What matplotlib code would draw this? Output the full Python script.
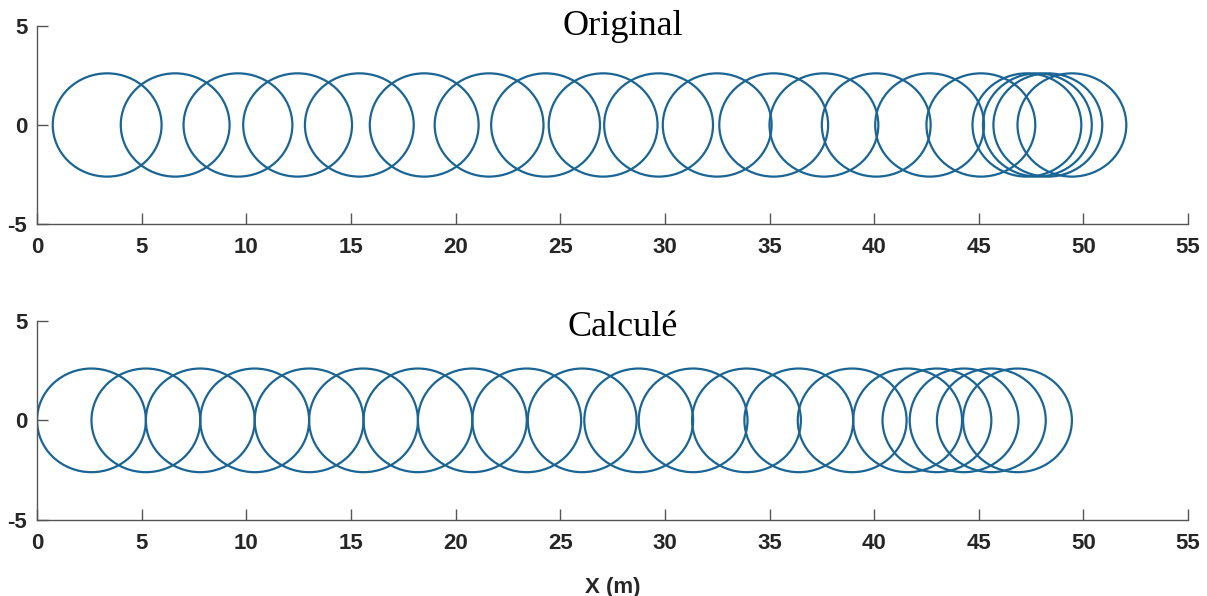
# Trajectoire circulaire : original vs calculé
import matplotlib
matplotlib.use('Agg')
import matplotlib.pyplot as plt
from matplotlib.patches import Circle

plt.rcParams['axes.unicode_minus'] = False

# centres des cercles (m)
centres_original = [3.35, 6.6, 9.6, 12.45, 15.4, 18.5, 21.6, 24.3, 27.05, 29.7,
                    32.5, 35.2, 37.6, 40.1, 42.65, 45.1, 47.3, 47.8, 48.3, 49.45]
centres_calcule = [2.6, 5.2, 7.8, 10.4, 13.0, 15.6, 18.2, 20.8, 23.4, 26.05,
                   28.75, 31.35, 33.9, 36.4, 38.95, 41.6, 43.0, 44.3, 45.6, 46.85]
rayon = 2.6

titres = ['Original', 'Calculé']
xticks = list(range(0, 60, 5))
yticks = [-5, 0, 5]

COULEUR = '#1b6594'
GRIS = '#262626'

fig = plt.figure(figsize=(12.07, 5.96), dpi=100)
ax1 = fig.add_axes([0.0307, 0.6237, 0.9536, 0.3332])
ax2 = fig.add_axes([0.0307, 0.1275, 0.9536, 0.3344])

for ax, centres, titre, ty in [(ax1, centres_original, titres[0], 0.953),
                               (ax2, centres_calcule, titres[1], 0.923)]:
    for cx in centres:
        ax.add_patch(Circle((cx, 0), rayon, fill=False, edgecolor=COULEUR,
                            linewidth=1.6))
    ax.set_xlim(0, 55)
    ax.set_ylim(-5, 5)
    ax.set_xticks(xticks)
    ax.set_yticks(yticks)
    ax.spines['top'].set_visible(False)
    ax.spines['right'].set_visible(False)
    for s in ['left', 'bottom']:
        ax.spines[s].set_color('#555555')
        ax.spines[s].set_linewidth(1.0)
    ax.tick_params(direction='in', length=8, width=1.0, color='#555555',
                   labelsize=16, labelcolor=GRIS)
    ax.tick_params(axis='x', pad=9)
    ax.tick_params(axis='y', pad=7)
    for lab in ax.get_xticklabels() + ax.get_yticklabels():
        lab.set_fontweight('bold')
        lab.set_family('Liberation Sans')
    ax.text(0.509, ty, titre, transform=ax.transAxes, ha='center', va='baseline',
            fontsize=26, family='Liberation Serif', color='black')

ax2.set_xlabel('X (m)', fontsize=16, fontweight='bold', family='Liberation Sans',
               color=GRIS, labelpad=17)

fig.savefig('out.png', dpi=100)
